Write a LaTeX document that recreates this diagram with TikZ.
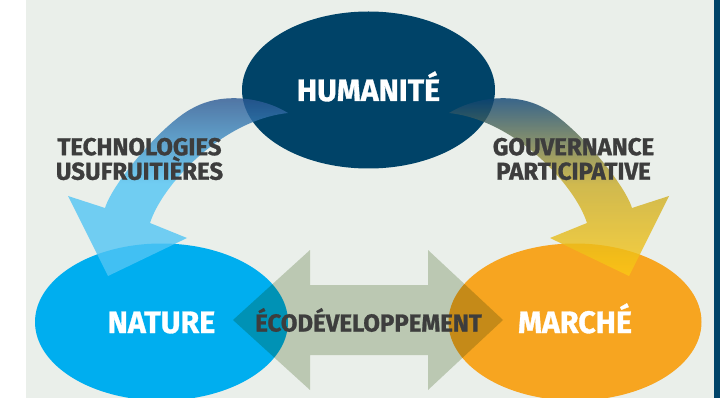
\documentclass[tikz,border=0pt]{standalone}
\usepackage{xcolor}
\usepackage{tikz}
\usepackage{fontspec}
\setmainfont{Fira Sans}[FakeStretch=0.98,BoldFeatures={FakeBold=1}]
\usetikzlibrary{shapes.geometric,calc}

\definecolor{bgpanel}{RGB}{234,239,234}
\definecolor{humblue}{RGB}{0,67,104}
\definecolor{natblue}{RGB}{0,174,239}
\definecolor{marorange}{RGB}{247,165,32}
\definecolor{ecogreen}{RGB}{204,214,194}
\definecolor{labelgrey}{RGB}{61,61,61}
\definecolor{techtop}{RGB}{40,80,140}
\definecolor{techlow}{RGB}{82,197,245}
\definecolor{govtop}{RGB}{0,60,120}
\definecolor{govlow}{RGB}{252,200,20}

\begin{document}
\begin{tikzpicture}[x=1pt,y=-1pt,
      pole/.style={ellipse,minimum width=253pt,minimum height=157pt,inner sep=0pt,
        text=white,font=\bfseries\fontsize{31}{31}\selectfont,
        text height=22pt,text depth=0pt},
      tag/.style={text=labelgrey,align=center,inner sep=0pt,
        font=\bfseries\fontsize{24.5}{24.5}\selectfont},
      link/.style={fill opacity=0.8}]
      \useasboundingbox (0,0) rectangle (720,398);
      \fill[bgpanel] (26,0) rectangle (714,398);
      \fill[humblue] (714,0) rectangle (720,398);
      % the three poles
      \node[pole,fill=humblue] (hum) at (368.5,90) {HUMANITÉ};
      \node[pole,fill=natblue] (nat) at (161.5,322) {NATURE};
      \node[pole,fill=marorange] (mar) at (575,322) {MARCHÉ};
      % curved links
      \shade[link,top color=techtop,bottom color=techlow,middle color=techlow]
        (288,113) .. controls (262,97) and (222,92) .. (193,108)
        .. controls (166,121) and (114,180) .. (105,208)
        -- (68,196) -- (108,276) -- (187,238) -- (150,223)
        .. controls (162,185) and (222,120) .. (288,113) -- cycle;
      \shade[link,top color=govtop,bottom color=govlow,middle color=govlow!80!govtop]
        (449,113) .. controls (475,97) and (515,92) .. (544,108)
        .. controls (571,121) and (623,180) .. (632,208)
        -- (669,196) -- (629,276) -- (550,238) -- (587,223)
        .. controls (575,185) and (515,120) .. (449,113) -- cycle;
      % the link between nature and market
      \coordinate (eco) at (368,320);
      \begin{scope}[shift={(eco)},blend mode=multiply]
        \fill[ecogreen] (-135,0) -- (-58,-70) -- (-58,-35) -- (60,-35) -- (60,-70)
          -- (135,0) -- (60,70) -- (60,35) -- (-58,35) -- (-58,70) -- cycle;
      \end{scope}
      \node[tag,text height=17pt,text depth=0pt] (ecolabel) at (368.5,323) {ÉCODÉVELOPPEMENT};
      \node[tag] (tech) at (139.5,159) {TECHNOLOGIES\\USUFRUITIÈRES};
      \node[tag] (gov) at (573.5,159) {GOUVERNANCE\\PARTICIPATIVE};
\end{tikzpicture}
\end{document}
